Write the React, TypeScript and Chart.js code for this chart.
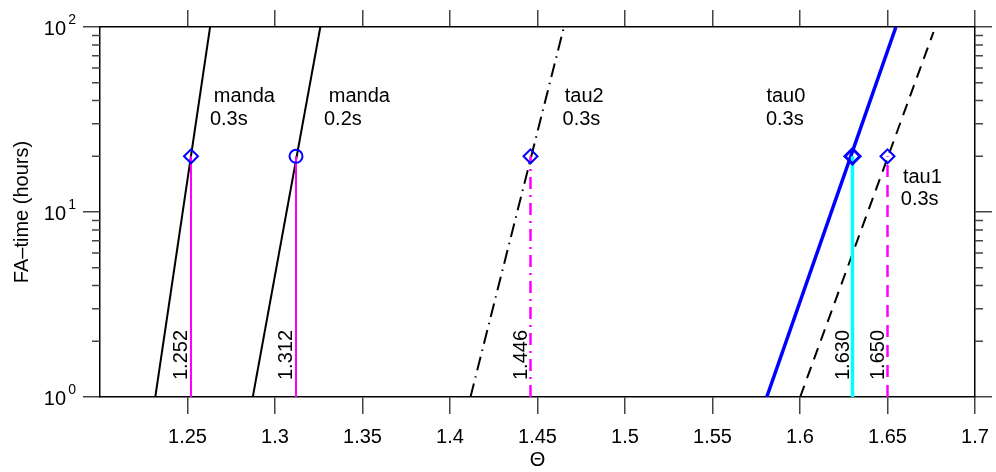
import React, { useEffect, useRef } from 'react';
import { Chart, registerables } from 'chart.js';

Chart.register(...registerables);

// ---- data ----
const X_TICKS = [1.25, 1.3, 1.35, 1.4, 1.45, 1.5, 1.55, 1.6, 1.65, 1.7];
const Y_TICKS = [1, 10, 100];
const Y_MINOR = [2, 3, 4, 5, 6, 7, 8, 9, 20, 30, 40, 50, 60, 70, 80, 90];

const mandaThetaA = [1.2316, 1.2629]; // manda 0.3s
const mandaThetaB = [1.2873, 1.3259]; // manda 0.2s
const tau2Theta = [1.4117, 1.4651];
const tau0Theta = [1.581, 1.6548];
const tau1Theta = [1.6001, 1.6763];
const lineHours = [1, 100];
const tau1Hours = [1, 94];

const FA_HOURS = 20;
const crossTheta = [1.252, 1.312, 1.446, 1.63, 1.65];
const crossLabels = ['1.252', '1.312', '1.446', '1.630', '1.650'];

const curveNames = [
  ['manda', '0.3s'],
  ['manda', '0.2s'],
  ['tau2', '0.3s'],
  ['tau0', '0.3s'],
  ['tau1', '0.3s'],
];
// label anchors (theta of each line's left edge, hours of each baseline)
const nameTheta = [
  [1.265, 1.2628],
  [1.3307, 1.328],
  [1.4656, 1.4643],
  [1.5808, 1.5805],
  [1.6588, 1.6576],
];
const nameHours = [
  [39.3, 29.5],
  [39.3, 29.5],
  [39.3, 29.5],
  [39.3, 29.5],
  [14.35, 10.9],
];

const FONT = "'Liberation Sans', Arial, Helvetica, sans-serif";

const pts = (xs: number[], ys: number[]) => xs.map((x, i) => ({ x, y: ys[i] }));

const overlay = {
  id: 'overlay',
  afterDraw(chart: any) {
    const ctx = chart.ctx as CanvasRenderingContext2D;
    const xs = chart.scales.x;
    const ys = chart.scales.y;
    const area = chart.chartArea;
    ctx.save();
    // minor ticks on both sides
    ctx.strokeStyle = '#444';
    ctx.lineWidth = 1.5;
    Y_MINOR.forEach((v) => {
      const py = ys.getPixelForValue(v);
      ctx.beginPath();
      ctx.moveTo(area.left - 8, py);
      ctx.lineTo(area.left, py);
      ctx.moveTo(area.right, py);
      ctx.lineTo(area.right + 8, py);
      ctx.stroke();
    });
    // y tick labels 10^n
    ctx.fillStyle = '#000';
    Y_TICKS.forEach((v) => {
      const py = ys.getPixelForValue(v);
      const e = Math.round(Math.log10(v));
      ctx.font = `20px ${FONT}`;
      ctx.textAlign = 'right';
      ctx.textBaseline = 'alphabetic';
      ctx.fillText('10', area.left - 34, py + 8);
      ctx.font = `14px ${FONT}`;
      ctx.fillText(String(e), area.left - 24, py - 3);
    });
    // rotated crossing labels
    ctx.font = `20px ${FONT}`;
    crossTheta.forEach((t, i) => {
      const px = xs.getPixelForValue(t);
      ctx.save();
      ctx.translate(px - 4, area.bottom - 17);
      ctx.rotate(-Math.PI / 2);
      ctx.textAlign = 'left';
      ctx.textBaseline = 'alphabetic';
      ctx.fillText(crossLabels[i], 0, 0);
      ctx.restore();
    });
    // curve names
    ctx.textAlign = 'left';
    ctx.textBaseline = 'alphabetic';
    curveNames.forEach((lines, i) => {
      lines.forEach((s, j) => {
        ctx.fillText(s, xs.getPixelForValue(nameTheta[i][j]), ys.getPixelForValue(nameHours[i][j]));
      });
    });
    ctx.restore();
  },
};

const noPad = (s: any) => {
  s.paddingLeft = 0;
  s.paddingRight = 0;
  s.paddingTop = 0;
  s.paddingBottom = 0;
};

export default function App() {
  const ref = useRef<HTMLCanvasElement>(null);
  useEffect(() => {
    document.body.style.margin = '0';
    const lineDs = (xs: number[], yv: number[], color: string, width: number, dash: number[]) => ({
      data: pts(xs, yv),
      showLine: true,
      borderColor: color,
      borderWidth: width,
      borderDash: dash,
      pointRadius: 0,
      fill: false,
      order: 3,
    });
    const vertDash = [[], [], [12, 6, 2, 6], [], [12, 8]];
    const vertColor = ['#ff00ff', '#ff00ff', '#ff00ff', '#00ffff', '#ff00ff'];
    const vertWidth = [2, 2, 2.5, 3.5, 2.5];
    const markerStyle = ['rectRot', 'circle', 'rectRot', 'rectRot', 'rectRot'];
    const markerRadius = [7, 6.5, 7, 7.5, 7];
    const markerWidth = [2, 2, 2, 3, 2];

    const datasets: any[] = [
      lineDs(mandaThetaA, lineHours, '#000', 2, []),
      lineDs(mandaThetaB, lineHours, '#000', 2, []),
      lineDs(tau2Theta, lineHours, '#000', 2, [14, 6, 1.5, 6]),
      lineDs(tau0Theta, lineHours, '#0000ff', 3.5, []),
      lineDs(tau1Theta, tau1Hours, '#000', 2, [12, 8]),
    ];
    crossTheta.forEach((t, i) => {
      datasets.push({
        data: [{ x: t, y: 1 }, { x: t, y: FA_HOURS }],
        showLine: true,
        borderColor: vertColor[i],
        borderWidth: vertWidth[i],
        borderDash: vertDash[i],
        pointRadius: 0,
        order: 2,
      });
    });
    crossTheta.forEach((t, i) => {
      datasets.push({
        data: [{ x: t, y: FA_HOURS }],
        showLine: false,
        pointStyle: markerStyle[i],
        pointRadius: markerRadius[i],
        pointBorderColor: '#0000ff',
        pointBackgroundColor: 'rgba(0,0,0,0)',
        pointBorderWidth: markerWidth[i],
        borderColor: '#0000ff',
        backgroundColor: 'rgba(0,0,0,0)',
        order: 1,
      });
    });

    const tickGrid = {
      drawOnChartArea: false,
      drawTicks: true,
      tickLength: 17,
      color: '#444',
      tickColor: '#444',
      lineWidth: 1.5,
      tickWidth: 1.5,
    };
    const border = { display: true, color: '#000', width: 1.5 };

    const chart = new Chart(ref.current!, {
      type: 'scatter',
      data: { datasets },
      plugins: [overlay],
      options: {
        animation: false,
        responsive: true,
        maintainAspectRatio: false,
        layout: { padding: 0, autoPadding: false },
        plugins: { legend: { display: false }, tooltip: { enabled: false } },
        scales: {
          x: {
            type: 'linear',
            position: 'bottom',
            min: 1.2,
            max: 1.7,
            afterBuildTicks: (s: any) => {
              s.ticks = X_TICKS.map((v) => ({ value: v }));
            },
            afterFit: (s: any) => {
              s.height = 75;
              noPad(s);
            },
            ticks: {
              color: '#000',
              font: { size: 20, family: FONT },
              padding: 11,
              maxRotation: 0,
              autoSkip: false,
              callback: (v: any) => String(+Number(v).toFixed(2)),
            },
            grid: tickGrid,
            border,
            title: {
              display: true,
              text: 'Θ',
              color: '#000',
              font: { size: 20, family: FONT, lineHeight: 1.2 },
              padding: { top: 0, bottom: 0 },
            },
          },
          xTop: {
            type: 'linear',
            position: 'top',
            min: 1.2,
            max: 1.7,
            afterBuildTicks: (s: any) => {
              s.ticks = X_TICKS.map((v) => ({ value: v }));
            },
            afterFit: (s: any) => {
              s.height = 27;
              noPad(s);
            },
            ticks: { display: false },
            grid: tickGrid,
            border,
          },
          y: {
            type: 'logarithmic',
            position: 'left',
            min: 1,
            max: 100,
            afterBuildTicks: (s: any) => {
              s.ticks = Y_TICKS.map((v) => ({ value: v }));
            },
            afterFit: (s: any) => {
              s.width = 100;
              noPad(s);
            },
            ticks: { display: false },
            grid: tickGrid,
            border,
            title: {
              display: true,
              text: 'FA–time (hours)',
              color: '#000',
              font: { size: 20, family: FONT, lineHeight: 1.2 },
              padding: { top: 10, bottom: 0 },
            },
          },
          yRight: {
            type: 'logarithmic',
            position: 'right',
            min: 1,
            max: 100,
            afterBuildTicks: (s: any) => {
              s.ticks = Y_TICKS.map((v) => ({ value: v }));
            },
            afterFit: (s: any) => {
              s.width = 21;
              noPad(s);
            },
            ticks: { display: false },
            grid: tickGrid,
            border,
          },
        },
      } as any,
    });
    return () => chart.destroy();
  }, []);

  return (
    <div style={{ width: 996, height: 472, position: 'relative', background: '#fff' }}>
      <canvas ref={ref} />
    </div>
  );
}
